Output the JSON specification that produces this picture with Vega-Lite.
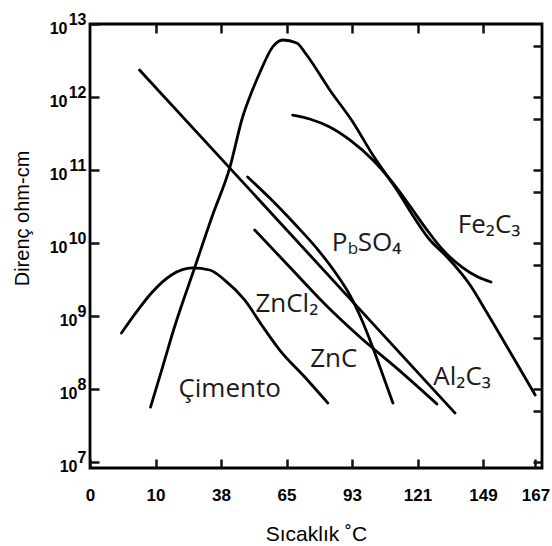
{
  "$schema": "https://vega.github.io/schema/vega-lite/v6.json",
  "width": 452,
  "height": 444,
  "autosize": {"type": "none"},
  "padding": {"left": 90, "top": 24, "right": 10, "bottom": 78},
  "background": "white",
  "config": {
    "view": {"stroke": "black", "strokeWidth": 2.8},
    "axis": {
      "domain": false, "grid": false,
      "labelColor": "black", "labelFont": "Liberation Sans", "labelFontWeight": "bold",
      "titleColor": "black", "titleFont": "Liberation Sans", "titleFontWeight": "normal"
    }
  },
  "datasets": {
    "curves": [
      {"curve": "A", "t": 46.2, "r": 5.66e7}, {"curve": "A", "t": 55.4, "r": 2.0e8}, {"curve": "A", "t": 64.5, "r": 7.07e8},
      {"curve": "A", "t": 79.8, "r": 4.55e9}, {"curve": "A", "t": 93.6, "r": 2.42e10}, {"curve": "A", "t": 106.6, "r": 1.06e11},
      {"curve": "A", "t": 116.5, "r": 5.32e11}, {"curve": "A", "t": 123.4, "r": 1.17e12}, {"curve": "A", "t": 129.5, "r": 2.13e12},
      {"curve": "A", "t": 139.4, "r": 4.84e12}, {"curve": "A", "t": 147.1, "r": 6.04e12}, {"curve": "A", "t": 157.8, "r": 5.5e12},
      {"curve": "A", "t": 165.4, "r": 3.76e12}, {"curve": "A", "t": 183.0, "r": 1.25e12}, {"curve": "A", "t": 200.6, "r": 4.55e11},
      {"curve": "A", "t": 215.9, "r": 1.6e11}, {"curve": "A", "t": 232.7, "r": 5.85e10}, {"curve": "A", "t": 259.5, "r": 1.1e10},
      {"curve": "A", "t": 272.5, "r": 6.43e9}, {"curve": "A", "t": 290.1, "r": 2.66e9}, {"curve": "A", "t": 303.1, "r": 1.1e9},
      {"curve": "A", "t": 322.9, "r": 2.74e8}, {"curve": "A", "t": 339.8, "r": 8.28e7},
      {"curve": "B", "t": 154.7, "r": 5.66e11}, {"curve": "B", "t": 167.7, "r": 5.0e11}, {"curve": "B", "t": 183.0, "r": 3.88e11},
      {"curve": "B", "t": 198.3, "r": 2.58e11}, {"curve": "B", "t": 215.9, "r": 1.37e11}, {"curve": "B", "t": 231.2, "r": 6.64e10},
      {"curve": "B", "t": 244.2, "r": 3.21e10}, {"curve": "B", "t": 257.2, "r": 1.51e10}, {"curve": "B", "t": 269.4, "r": 8.01e9},
      {"curve": "B", "t": 283.9, "r": 4.69e9}, {"curve": "B", "t": 296.2, "r": 3.42e9}, {"curve": "B", "t": 306.1, "r": 2.92e9},
      {"curve": "C", "t": 37.8, "r": 2.34e12}, {"curve": "C", "t": 105.0, "r": 1.15e11}, {"curve": "C", "t": 278.6, "r": 4.69e7},
      {"curve": "D", "t": 120.3, "r": 8.02e10}, {"curve": "D", "t": 137.2, "r": 4.13e10}, {"curve": "D", "t": 156.3, "r": 1.82e10},
      {"curve": "D", "t": 175.4, "r": 7.53e9}, {"curve": "D", "t": 189.1, "r": 3.53e9}, {"curve": "D", "t": 198.3, "r": 1.94e9},
      {"curve": "D", "t": 207.5, "r": 8.81e8}, {"curve": "D", "t": 215.1, "r": 4.01e8}, {"curve": "D", "t": 223.5, "r": 1.56e8},
      {"curve": "D", "t": 231.2, "r": 6.43e7},
      {"curve": "E", "t": 125.7, "r": 1.51e10}, {"curve": "E", "t": 152.4, "r": 4.69e9}, {"curve": "E", "t": 179.2, "r": 1.46e9},
      {"curve": "E", "t": 206.0, "r": 5.15e8}, {"curve": "E", "t": 236.5, "r": 1.77e8}, {"curve": "E", "t": 264.8, "r": 6.24e7},
      {"curve": "H", "t": 24.0, "r": 5.85e8}, {"curve": "H", "t": 35.5, "r": 1.14e9}, {"curve": "H", "t": 46.9, "r": 2.07e9},
      {"curve": "H", "t": 62.2, "r": 3.65e9}, {"curve": "H", "t": 78.3, "r": 4.55e9}, {"curve": "H", "t": 91.3, "r": 4.27e9},
      {"curve": "H", "t": 102.8, "r": 3.11e9}, {"curve": "H", "t": 118.0, "r": 1.66e9}, {"curve": "H", "t": 131.0, "r": 7.54e8},
      {"curve": "H", "t": 144.8, "r": 3.42e8}, {"curve": "H", "t": 163.9, "r": 1.46e8}, {"curve": "H", "t": 181.5, "r": 6.43e7}
    ],
    "labels": [
      {"label": "Çimento", "t": 106.6, "r": 7.76e7},
      {"label": "ZnCl₂", "t": 150.2, "r": 1.14e9},
      {"label": "ZnC", "t": 186.1, "r": 2.0e8},
      {"label": "Fe₂C₃", "t": 304.6, "r": 1.37e10},
      {"label": "Al₂C₃", "t": 284.0, "r": 1.14e8}
    ],
    "pbparts": [
      {"label": "P", "t": 184.6, "r": 7.76e9},
      {"label": "SO₄", "t": 204.4, "r": 7.76e9}
    ],
    "pbsub": [
      {"label": "b", "t": 196.8, "r": 7.1e9}
    ]
  },
  "resolve": {"axis": {"x": "independent", "y": "independent"}},
  "layer": [
    {
      "data": {"name": "curves"},
      "mark": {"type": "line", "color": "black", "strokeWidth": 2.8, "interpolate": "monotone", "strokeCap": "round"},
      "encoding": {
        "x": {"field": "t", "type": "quantitative",
          "scale": {"domain": [0, 345], "nice": false, "zero": false},
          "axis": {"orient": "bottom", "values": [0, 50, 100, 150, 200, 250, 300, 340],
            "ticks": true, "tickColor": "#111111", "tickWidth": 2.5, "tickSize": -9,
            "labelExpr": "['0','10','38','65','93','121','149','167'][indexof([0,50,100,150,200,250,300,340], datum.value)]",
            "labelFontSize": 17, "labelPadding": 28, "labelFlush": false,
            "title": "Sıcaklık ˚C", "titleFontSize": 21, "titleY": 72, "titleBaseline": "alphabetic"}},
        "y": {"field": "r", "type": "quantitative",
          "scale": {"type": "log", "domain": [8.28e6, 1e13], "nice": false},
          "axis": {"orient": "left", "values": [1e7, 1e8, 1e9, 1e10, 1e11, 1e12, 1e13],
            "ticks": true, "tickColor": "#111111", "tickWidth": 2.5, "tickSize": -9,
            "labelExpr": "'10'",
            "labelFontSize": 16, "labelOffset": 4, "labelFlush": false, "labelOverlap": false,
            "labelPadding": {"condition": {"test": "datum.value >= 1e10", "value": 32}, "value": 22},
            "title": "Direnç ohm-cm", "titleFontSize": 20, "titleX": -68, "titleY": 194, "titleBaseline": "middle"}},
        "detail": {"field": "curve"}
      }
    },
    {
      "data": {"name": "labels"},
      "mark": {"type": "text", "font": "Open Sans", "fontSize": 26, "align": "center", "baseline": "alphabetic", "color": "#1a1a1a"},
      "encoding": {
        "x": {"field": "t", "type": "quantitative", "scale": {"domain": [0, 345], "nice": false, "zero": false},
          "axis": {"orient": "top", "values": [50, 100, 150, 200, 250, 300], "ticks": true, "tickColor": "#111111", "tickWidth": 2.5, "tickSize": -9, "labels": false, "title": null}},
        "y": {"field": "r", "type": "quantitative", "scale": {"type": "log", "domain": [8.28e6, 1e13], "nice": false},
          "axis": {"orient": "right", "values": [5e12, 1e12, 5e11, 1e11, 5e10, 1e10, 5e9, 1e9, 5e8, 1e8, 5e7, 1e7], "ticks": true, "tickColor": "#111111", "tickWidth": 2.5, "tickSize": -9, "labels": false, "title": null}},
        "text": {"field": "label"}
      }
    },
    {
      "data": {"name": "pbparts"},
      "mark": {"type": "text", "font": "Open Sans", "fontSize": 26, "align": "left", "baseline": "alphabetic", "color": "#1a1a1a"},
      "encoding": {
        "x": {"field": "t", "type": "quantitative", "scale": {"domain": [0, 345], "nice": false, "zero": false}, "axis": null},
        "y": {"field": "r", "type": "quantitative", "scale": {"type": "log", "domain": [8.28e6, 1e13], "nice": false},
          "axis": {"orient": "left", "values": [1e7, 1e8, 1e9, 1e10, 1e11, 1e12, 1e13],
            "labelExpr": "format(round(log(datum.value)/LN10), 'd')",
            "ticks": false, "labelPadding": 4, "labelOffset": -5,
            "labelFontSize": 16, "labelFlush": false, "labelOverlap": false, "title": null}},
        "text": {"field": "label"}
      }
    },
    {
      "data": {"name": "pbsub"},
      "mark": {"type": "text", "font": "Open Sans", "fontSize": 17, "align": "left", "baseline": "alphabetic", "color": "#1a1a1a"},
      "encoding": {
        "x": {"field": "t", "type": "quantitative", "scale": {"domain": [0, 345], "nice": false, "zero": false}, "axis": null},
        "y": {"field": "r", "type": "quantitative", "scale": {"type": "log", "domain": [8.28e6, 1e13], "nice": false}, "axis": null},
        "text": {"field": "label"}
      }
    }
  ]
}
